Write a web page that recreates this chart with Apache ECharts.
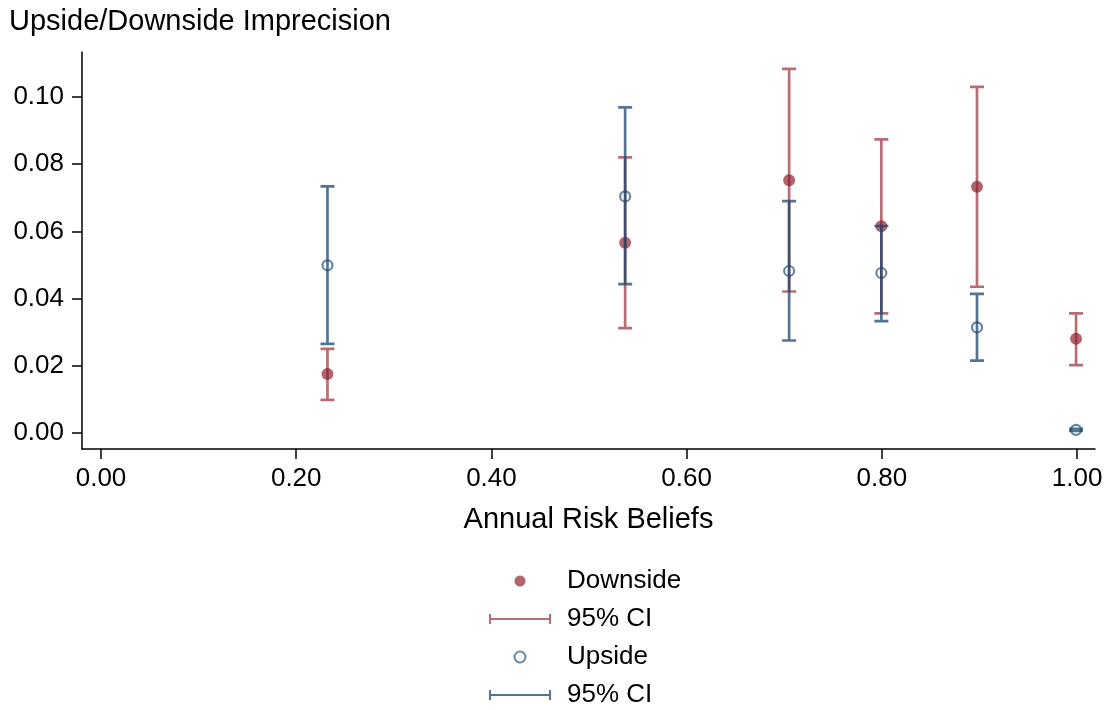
<!DOCTYPE html>
<html>
<head>
<meta charset="utf-8">
<script src="https://cdn.jsdelivr.net/npm/echarts@6/dist/echarts.min.js"></script>
<style>html,body{margin:0;padding:0;background:#fff}#c{width:1112px;height:710px}</style>
</head>
<body>
<div id="c"></div>
<script>
var riskBeliefs = [0.232, 0.537, 0.705, 0.7995, 0.8975, 0.999];
var downside = [0.0175, 0.0566, 0.0752, 0.0615, 0.0733, 0.0280];
var downLo = [0.0098, 0.0312, 0.0421, 0.0356, 0.0435, 0.0202];
var downHi = [0.0250, 0.0820, 0.1084, 0.0874, 0.1030, 0.0356];
var upside = [0.0499, 0.0704, 0.0482, 0.0476, 0.0314, 0.0009];
var upLo = [0.0265, 0.0443, 0.0275, 0.0333, 0.0215, 0.0006];
var upHi = [0.0734, 0.0969, 0.0690, 0.0616, 0.0414, 0.0012];
var xTicks = [0, 0.2, 0.4, 0.6, 0.8, 1.0];
var yTicks = [0, 0.02, 0.04, 0.06, 0.08, 0.10];

var FONT = 'Liberation Sans';
var redDot = 'rgba(144,30,42,0.85)';
var redLine = 'rgba(144,30,42,0.65)';
var blueDot = 'rgba(26,71,111,0.82)';
var blueLine = 'rgba(26,71,111,0.75)';

function ciRender(color) {
  return function (params, api) {
    var x = api.value(0), lo = api.value(1), hi = api.value(2);
    var a = api.coord([x, lo]), b = api.coord([x, hi]);
    var hw = 7;
    var d = 'M' + (a[0] - hw) + ',' + a[1] + 'L' + (a[0] + hw) + ',' + a[1] +
            'M' + a[0] + ',' + a[1] + 'L' + b[0] + ',' + b[1] +
            'M' + (b[0] - hw) + ',' + b[1] + 'L' + (b[0] + hw) + ',' + b[1];
    return {type: 'path', shape: {pathData: d}, style: {stroke: color, lineWidth: 2.7, fill: null}};
  };
}
function zip3(x, a, b) { return x.map(function (v, i) { return [v, a[i], b[i]]; }); }
function zip2(x, a) { return x.map(function (v, i) { return [v, a[i]]; }); }

var ciIcon = 'path://M0,0h2v10h-2z M0,4h62v2h-62z M60,0h2v10h-2z';

var chart = echarts.init(document.getElementById('c'), null, {renderer: 'canvas'});
chart.setOption({
  animation: false,
  backgroundColor: '#fff',
  textStyle: {fontFamily: FONT},
  title: {
    text: 'Upside/Downside Imprecision', left: 9, top: 7, padding: 0,
    textStyle: {fontFamily: FONT, fontSize: 29, fontWeight: 'normal', color: '#000'}
  },
  grid: {left: 82, right: 17, top: 52, bottom: 261, containLabel: false},
  xAxis: {
    type: 'value', min: -0.0195, max: 1.0184,
    name: 'Annual Risk Beliefs', nameLocation: 'middle', nameGap: 56,
    nameTextStyle: {fontFamily: FONT, fontSize: 29, color: '#000', verticalAlign: 'top'},
    axisLine: {show: true, onZero: false, lineStyle: {color: '#000', width: 1.5}},
    axisTick: {show: true, length: 10, inside: false, lineStyle: {color: '#000', width: 1.5}, customValues: xTicks},
    axisLabel: {fontFamily: FONT, fontSize: 26, color: '#000', margin: 17, customValues: xTicks,
      formatter: function (v) { return v.toFixed(2); }},
    splitLine: {show: false}
  },
  yAxis: {
    type: 'value', min: -0.0048, max: 0.1134,
    axisLine: {show: true, onZero: false, lineStyle: {color: '#000', width: 1.5}},
    axisTick: {show: true, length: 10, lineStyle: {color: '#000', width: 1.5}, customValues: yTicks},
    axisLabel: {fontFamily: FONT, fontSize: 26, color: '#000', margin: 18, customValues: yTicks,
      formatter: function (v) { return v.toFixed(2); }},
    splitLine: {show: false}
  },
  legend: {
    orient: 'vertical', left: 489, top: 568, padding: 0, itemWidth: 62, itemHeight: 11, itemGap: 12,
    textStyle: {fontFamily: FONT, fontSize: 26, color: '#000', lineHeight: 26, padding: [0, 0, 0, 11]},
    formatter: function (n) { return n.indexOf('ci') === 0 ? '95% CI' : n; },
    data: [
      {name: 'Downside', icon: 'circle', itemStyle: {color: redDot, borderWidth: 0}},
      {name: 'ciDown', icon: ciIcon, itemStyle: {color: redLine, borderWidth: 0}},
      {name: 'Upside', icon: 'circle', itemStyle: {color: 'rgba(0,0,0,0)', borderColor: blueDot, borderWidth: 2}},
      {name: 'ciUp', icon: ciIcon, itemStyle: {color: blueLine, borderWidth: 0}}
    ]
  },
  series: [
    {name: 'ciDown', type: 'custom', renderItem: ciRender(redLine), data: zip3(riskBeliefs, downLo, downHi),
      encode: {x: 0, y: [1, 2]}, itemStyle: {color: redLine}, z: 2},
    {name: 'Downside', type: 'scatter', data: zip2(riskBeliefs, downside), symbol: 'circle', symbolSize: 12,
      itemStyle: {color: redDot}, z: 3},
    {name: 'ciUp', type: 'custom', renderItem: ciRender(blueLine), data: zip3(riskBeliefs, upLo, upHi),
      encode: {x: 0, y: [1, 2]}, itemStyle: {color: blueLine}, z: 4},
    {name: 'Upside', type: 'scatter', data: zip2(riskBeliefs, upside), symbol: 'circle', symbolSize: 10,
      itemStyle: {color: 'rgba(0,0,0,0)', borderColor: blueDot, borderWidth: 2.2}, z: 5}
  ]
});
</script>
</body>
</html>
